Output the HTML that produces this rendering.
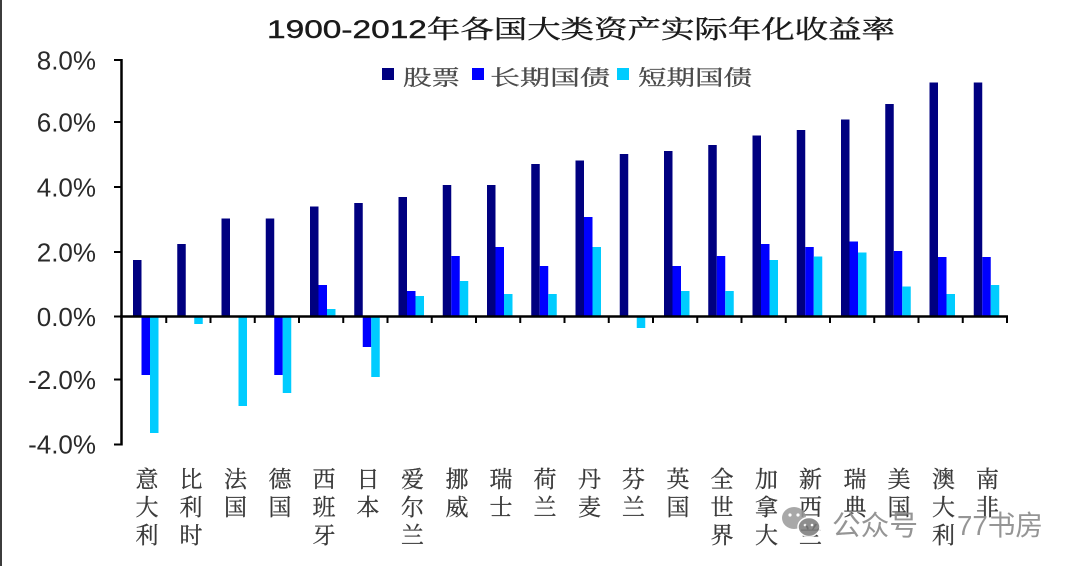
<!DOCTYPE html>
<html>
<head>
<meta charset="utf-8">
<style>
  html,body{margin:0;padding:0;background:#fff;}
  body{width:1080px;height:566px;overflow:hidden;}
  svg{display:block;}
  .yl{font-family:"Liberation Sans",Arial,sans-serif;font-size:26px;fill:#2a2a2a;text-anchor:end;}
  .xl{font-family:"Liberation Serif","Noto Serif CJK SC",serif;font-size:23px;fill:#3a3a3a;text-anchor:middle;stroke:#3a3a3a;stroke-width:0.3;}
  .lg{font-family:"Liberation Serif","Noto Serif CJK SC",serif;font-size:21px;fill:#4a4a4a;stroke:#4a4a4a;stroke-width:0.3;}
  .tt{font-family:"Liberation Sans","Noto Serif CJK SC",sans-serif;font-size:25px;fill:#1a1a1a;stroke:#1a1a1a;stroke-width:0.4;}
  .wm{font-family:"Liberation Sans","Noto Sans CJK SC",sans-serif;font-size:28px;fill:#8a8a8a;}
</style>
</head>
<body>
<svg width="1080" height="566" viewBox="0 0 1080 566" xmlns="http://www.w3.org/2000/svg">
  <rect x="0" y="0" width="1080" height="566" fill="#fff"/>
  <rect x="0" y="0" width="2" height="566" fill="#3c3c3c"/>

  <!-- Title -->
  <text class="tt" x="267" y="38" textLength="628" lengthAdjust="spacingAndGlyphs">1900-2012年各国大类资产实际年化收益率</text>

  <!-- Legend -->
  <rect x="382" y="68" width="12" height="12" fill="#000080"/>
  <text class="lg" x="403" y="85" textLength="57" lengthAdjust="spacingAndGlyphs">股票</text>
  <rect x="472" y="68" width="12" height="12" fill="#0000ff"/>
  <text class="lg" x="490" y="85" textLength="120" lengthAdjust="spacingAndGlyphs">长期国债</text>
  <rect x="617" y="68" width="12" height="12" fill="#00ccff"/>
  <text class="lg" x="638" y="85" textLength="114" lengthAdjust="spacingAndGlyphs">短期国债</text>

  <!-- Y labels -->
  <text class="yl" x="96" y="69.5">8.0%</text>
  <text class="yl" x="96" y="131.5">6.0%</text>
  <text class="yl" x="96" y="196.5">4.0%</text>
  <text class="yl" x="96" y="261.5">2.0%</text>
  <text class="yl" x="96" y="326">0.0%</text>
  <text class="yl" x="96" y="389">-2.0%</text>
  <text class="yl" x="96" y="453.5">-4.0%</text>

  <!-- Stock bars -->
  <g fill="#000080">
    <rect x="133" y="260" width="8.5" height="56.5"/>
    <rect x="177.25" y="244" width="8.5" height="72.5"/>
    <rect x="221.5" y="218.5" width="8.5" height="98"/>
    <rect x="265.75" y="218.5" width="8.5" height="98"/>
    <rect x="310" y="206.5" width="8.5" height="110"/>
    <rect x="354.25" y="203" width="8.5" height="113.5"/>
    <rect x="398.5" y="197" width="8.5" height="119.5"/>
    <rect x="442.75" y="185" width="8.5" height="131.5"/>
    <rect x="487" y="185" width="8.5" height="131.5"/>
    <rect x="531.25" y="164" width="8.5" height="152.5"/>
    <rect x="575.5" y="160.5" width="8.5" height="156"/>
    <rect x="619.75" y="154" width="8.5" height="162.5"/>
    <rect x="664" y="151" width="8.5" height="165.5"/>
    <rect x="708.25" y="145" width="8.5" height="171.5"/>
    <rect x="752.5" y="135.5" width="8.5" height="181"/>
    <rect x="796.75" y="130" width="8.5" height="186.5"/>
    <rect x="841" y="119.5" width="8.5" height="197"/>
    <rect x="885.25" y="104" width="8.5" height="212.5"/>
    <rect x="929.5" y="82.5" width="8.5" height="234"/>
    <rect x="973.75" y="82.5" width="8.5" height="234"/>
  </g>

  <!-- Long bond bars -->
  <g fill="#0000ff">
    <rect x="141.5" y="316.5" width="8.5" height="58.5"/>
    <rect x="274.25" y="316.5" width="8.5" height="58.5"/>
    <rect x="318.5" y="285" width="8.5" height="31.5"/>
    <rect x="362.75" y="316.5" width="8.5" height="30.5"/>
    <rect x="407" y="291" width="8.5" height="25.5"/>
    <rect x="451.25" y="256" width="8.5" height="60.5"/>
    <rect x="495.5" y="247" width="8.5" height="69.5"/>
    <rect x="539.75" y="266" width="8.5" height="50.5"/>
    <rect x="584" y="217" width="8.5" height="99.5"/>
    <rect x="672.5" y="266" width="8.5" height="50.5"/>
    <rect x="716.75" y="256" width="8.5" height="60.5"/>
    <rect x="761" y="244" width="8.5" height="72.5"/>
    <rect x="805.25" y="247" width="8.5" height="69.5"/>
    <rect x="849.5" y="241.5" width="8.5" height="75"/>
    <rect x="893.75" y="251" width="8.5" height="65.5"/>
    <rect x="938" y="257" width="8.5" height="59.5"/>
    <rect x="982.25" y="257" width="8.5" height="59.5"/>
  </g>

  <!-- Short bill bars -->
  <g fill="#00ccff">
    <rect x="150" y="316.5" width="8.5" height="116.5"/>
    <rect x="194.25" y="316.5" width="8.5" height="7.5"/>
    <rect x="238.5" y="316.5" width="8.5" height="89.5"/>
    <rect x="282.75" y="316.5" width="8.5" height="76.5"/>
    <rect x="327" y="309" width="8.5" height="7.5"/>
    <rect x="371.25" y="316.5" width="8.5" height="60.5"/>
    <rect x="415.5" y="296" width="8.5" height="20.5"/>
    <rect x="459.75" y="281" width="8.5" height="35.5"/>
    <rect x="504" y="294" width="8.5" height="22.5"/>
    <rect x="548.25" y="294" width="8.5" height="22.5"/>
    <rect x="592.5" y="247" width="8.5" height="69.5"/>
    <rect x="636.75" y="316.5" width="8.5" height="11.5"/>
    <rect x="681" y="291" width="8.5" height="25.5"/>
    <rect x="725.25" y="291" width="8.5" height="25.5"/>
    <rect x="769.5" y="260" width="8.5" height="56.5"/>
    <rect x="813.75" y="256.5" width="8.5" height="60"/>
    <rect x="858" y="252.5" width="8.5" height="64"/>
    <rect x="902.25" y="286.5" width="8.5" height="30"/>
    <rect x="946.5" y="294" width="8.5" height="22.5"/>
    <rect x="990.75" y="285" width="8.5" height="31.5"/>
  </g>

  <!-- Axes -->
  <g stroke="#000" fill="none">
    <line x1="121.5" y1="59" x2="121.5" y2="445.5" stroke-width="2.5"/>
    <line x1="120" y1="316.5" x2="1008" y2="316.5" stroke-width="2.5"/>
    <g stroke-width="2">
      <line x1="114" y1="60" x2="121.5" y2="60"/>
      <line x1="114" y1="122" x2="121.5" y2="122"/>
      <line x1="114" y1="187" x2="121.5" y2="187"/>
      <line x1="114" y1="252" x2="121.5" y2="252"/>
      <line x1="114" y1="316.5" x2="121.5" y2="316.5"/>
      <line x1="114" y1="379.5" x2="121.5" y2="379.5"/>
      <line x1="114" y1="444.5" x2="121.5" y2="444.5"/>
    </g>
    <g stroke-width="2">
      <line x1="166.25" y1="316.5" x2="166.25" y2="323"/>
      <line x1="210.5" y1="316.5" x2="210.5" y2="323"/>
      <line x1="254.75" y1="316.5" x2="254.75" y2="323"/>
      <line x1="299" y1="316.5" x2="299" y2="323"/>
      <line x1="343.25" y1="316.5" x2="343.25" y2="323"/>
      <line x1="387.5" y1="316.5" x2="387.5" y2="323"/>
      <line x1="431.75" y1="316.5" x2="431.75" y2="323"/>
      <line x1="476" y1="316.5" x2="476" y2="323"/>
      <line x1="520.25" y1="316.5" x2="520.25" y2="323"/>
      <line x1="564.5" y1="316.5" x2="564.5" y2="323"/>
      <line x1="608.75" y1="316.5" x2="608.75" y2="323"/>
      <line x1="653" y1="316.5" x2="653" y2="323"/>
      <line x1="697.25" y1="316.5" x2="697.25" y2="323"/>
      <line x1="741.5" y1="316.5" x2="741.5" y2="323"/>
      <line x1="785.75" y1="316.5" x2="785.75" y2="323"/>
      <line x1="830" y1="316.5" x2="830" y2="323"/>
      <line x1="874.25" y1="316.5" x2="874.25" y2="323"/>
      <line x1="918.5" y1="316.5" x2="918.5" y2="323"/>
      <line x1="962.75" y1="316.5" x2="962.75" y2="323"/>
      <line x1="1007" y1="316.5" x2="1007" y2="323"/>
    </g>
  </g>

  <!-- X labels (vertical) -->
  <g class="xl">
    <text x="147" y="487">意</text><text x="147" y="515">大</text><text x="147" y="543">利</text>
    <text x="191" y="487">比</text><text x="191" y="515">利</text><text x="191" y="543">时</text>
    <text x="235.5" y="487">法</text><text x="235.5" y="515">国</text>
    <text x="280" y="487">德</text><text x="280" y="515">国</text>
    <text x="324" y="487">西</text><text x="324" y="515">班</text><text x="324" y="543">牙</text>
    <text x="368" y="487">日</text><text x="368" y="515">本</text>
    <text x="412.5" y="487">爱</text><text x="412.5" y="515">尔</text><text x="412.5" y="543">兰</text>
    <text x="457" y="487">挪</text><text x="457" y="515">威</text>
    <text x="501" y="487">瑞</text><text x="501" y="515">士</text>
    <text x="545" y="487">荷</text><text x="545" y="515">兰</text>
    <text x="589.5" y="487">丹</text><text x="589.5" y="515">麦</text>
    <text x="633.5" y="487">芬</text><text x="633.5" y="515">兰</text>
    <text x="678" y="487">英</text><text x="678" y="515">国</text>
    <text x="722" y="487">全</text><text x="722" y="515">世</text><text x="722" y="543">界</text>
    <text x="766.5" y="487">加</text><text x="766.5" y="515">拿</text><text x="766.5" y="543">大</text>
    <text x="810.5" y="487">新</text><text x="810.5" y="515">西</text><text x="810.5" y="543">兰</text>
    <text x="855" y="487">瑞</text><text x="855" y="515">典</text>
    <text x="899" y="487">美</text><text x="899" y="515">国</text>
    <text x="943.5" y="487">澳</text><text x="943.5" y="515">大</text><text x="943.5" y="543">利</text>
    <text x="987.5" y="487">南</text><text x="987.5" y="515">非</text>
  </g>

  <!-- Watermark -->
  <g opacity="0.85">
    <ellipse cx="794" cy="518" rx="12" ry="11" fill="#9a9a9a"/>
    <ellipse cx="809" cy="527" rx="11" ry="9.5" fill="#7a7a7a" stroke="#fff" stroke-width="1.5"/>
    <circle cx="790" cy="515" r="1.6" fill="#fff"/>
    <circle cx="798" cy="515" r="1.6" fill="#fff"/>
    <circle cx="805" cy="525" r="1.3" fill="#fff"/>
    <circle cx="812" cy="525" r="1.3" fill="#fff"/>
  </g>
  <text class="wm" x="832" y="535" textLength="86" lengthAdjust="spacingAndGlyphs" opacity="0.9">公众号</text>
  <text class="wm" x="957" y="535" textLength="86" lengthAdjust="spacingAndGlyphs" opacity="0.9">77书房</text>
</svg>
</body>
</html>
